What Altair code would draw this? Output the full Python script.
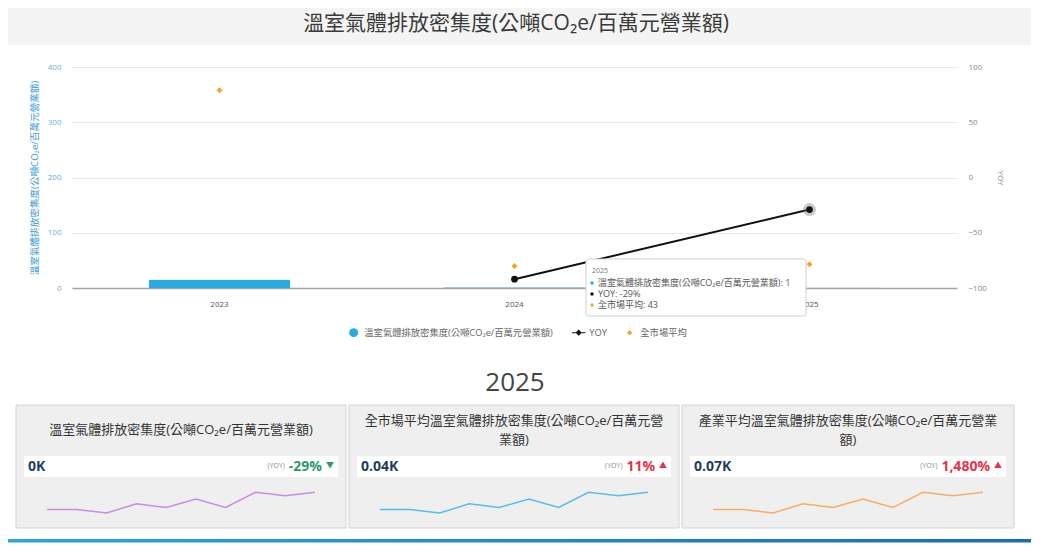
import pandas as pd
import altair as alt

FONT = "Open Sans, Noto Sans CJK TC, sans-serif"

# ---- values ----
years = ['2023', '2024', '2025']
intensity = [15.2, 1.4, 1.0]
yoy = [None, -92, -29]
market_avg = [358, 40, 43]

series_names = ['溫室氣體排放密集度(公噸CO₂e/百萬元營業額)', 'YOY', '全市場平均']
series_colors = ['#29abe2', '#111111', '#f5a623']

chart_title = '溫室氣體排放密集度(公噸CO₂e/百萬元營業額)'
heading_year = '2025'

card_title_lines = [
    ['溫室氣體排放密集度(公噸CO₂e/百萬元營業額)'],
    ['全市場平均溫室氣體排放密集度(公噸CO₂e/百萬元營', '業額)'],
    ['產業平均溫室氣體排放密集度(公噸CO₂e/百萬元營業', '額)'],
]
card_values = ['0K', '0.04K', '0.07K']
card_yoy = ['-29%', '11%', '1,480%']
card_trend = ['down', 'up', 'up']
spark_values = [3.4, 3.4, 0, 9, 5.4, 13.7, 5.4, 20.4, 17, 20.4]
spark_colors = ['#c98be8', '#56bde8', '#f7ae63']

# plot area is 885 x 221; everything else is placed relative to its origin
PW, PH = 885, 221
LEFT, RIGHT = -64, 959
one = pd.DataFrame({'k': [0]})


def txt(text, x, y, **style):
    style.setdefault('font', FONT)
    style.setdefault('baseline', 'middle')
    return alt.Chart(one).mark_text(text=text, **style).encode(x=alt.value(x), y=alt.value(y))


def box(x, x2, y, y2, **style):
    return alt.Chart(one).mark_rect(**style).encode(
        x=alt.value(x), x2=alt.value(x2), y=alt.value(y), y2=alt.value(y2))


# ---- header band ----
header = [
    box(LEFT, RIGHT, -59, -22, color='#f4f4f4'),
    txt(chart_title, 444, -43, fontSize=21, color='#3a3a3a'),
]

# ---- main chart ----
df = pd.DataFrame({'year': years, 'intensity': intensity, 'yoy': yoy, 'market': market_avg})

x_scale = alt.Scale(domain=years, paddingInner=0, paddingOuter=0)
x_enc = alt.X('year:N', sort=years, title=None, scale=x_scale,
              axis=alt.Axis(labelAngle=0, labelFontSize=8, labelColor='#555555', labelPadding=12,
                            labelFont=FONT, ticks=False, domainColor='#a3a3a3', domainWidth=1.5,
                            grid=False))
x_plain = alt.X('year:N', sort=years, title=None, scale=x_scale, axis=None)

left_axis = alt.Axis(orient='left', values=[0, 100, 200, 300, 400], labelColor='#6aaee0',
                     labelFontSize=8, labelFont=FONT, labelPadding=11, ticks=False, domain=False,
                     gridColor='#e8e8e8', title=series_names[0], titleColor='#3d9bd8',
                     titleFontSize=9.6, titleFont=FONT, titleFontWeight='normal', titlePadding=8)
left_scale = alt.Scale(domain=[0, 400], nice=False, zero=False)

right_axis = alt.Axis(orient='right', values=[-100, -50, 0, 50, 100], grid=False, domain=False,
                      ticks=False, labelColor='#888888', labelFontSize=8, labelFont=FONT,
                      labelPadding=11, title='YOY', titleColor='#888888', titleFontSize=8,
                      titleFont=FONT, titleFontWeight='normal', titlePadding=9)
right_scale = alt.Scale(domain=[-100, 100], nice=False)

YOY_SYMBOL = 'M-1.5,-0.12H1.5V0.12H-1.5Z M-0.7,0L0,-0.7L0.7,0L0,0.7Z'
DIAMOND = 'M-0.6,0L0,-0.6L0.6,0L0,0.6Z'
color_scale = alt.Scale(domain=series_names, range=series_colors)
shape_scale = alt.Scale(domain=series_names, range=['circle', YOY_SYMBOL, DIAMOND])
legend = alt.Legend(orient='none', legendX=277, legendY=261, direction='horizontal', title=None,
                    labelFontSize=9.3, labelFont=FONT, labelColor='#666666', labelLimit=400,
                    symbolSize=80, symbolStrokeWidth=0, columnPadding=18, labelOffset=6, padding=0)

bars = alt.Chart(df).transform_calculate(series=f"'{series_names[0]}'").mark_bar(
    width=alt.RelativeBandSize(0.48), cornerRadiusTopLeft=2, cornerRadiusTopRight=2
).encode(
    x=x_enc,
    y=alt.Y('intensity:Q', scale=left_scale, axis=left_axis),
    color=alt.Color('series:N', scale=color_scale, legend=legend),
)

market = alt.Chart(df).transform_calculate(series=f"'{series_names[2]}'").mark_point(
    filled=True, size=100, opacity=1
).encode(
    x=x_enc,
    y=alt.Y('market:Q', scale=left_scale, axis=left_axis),
    color=alt.Color('series:N', scale=color_scale, legend=legend),
    shape=alt.Shape('series:N', scale=shape_scale, legend=legend),
)

y_right = alt.Y('yoy:Q', scale=right_scale, axis=right_axis)
yoy_line = alt.Chart(df).mark_line(color='#111111', strokeWidth=2).encode(x=x_plain, y=y_right)
yoy_halo = alt.Chart(df).transform_filter(alt.datum.year == years[2]).mark_circle(
    color='#7a7a7a', opacity=0.4, size=170).encode(x=x_plain, y=y_right)
yoy_dots = alt.Chart(df).mark_circle(color='#111111', size=45, opacity=1).encode(x=x_plain, y=y_right)

# hover tooltip shown in the picture, anchored on 2025
tip_df = pd.DataFrame({
    'year': [years[2]] * 3,
    'label': [f'{series_names[0]}: {intensity[2]:.0f}',
              f'YOY: {yoy[2]:.0f}%',
              f'{series_names[2]}: {market_avg[2]:.0f}'],
    'ty': [9.0, -10.9, -30.8],
    'dot': series_colors,
})
tip_y = alt.Scale(domain=[0, 400], nice=False, zero=False)
tip_one = pd.DataFrame({'year': [years[2]]})
tip_box = alt.Chart(tip_one).mark_bar(
    width=220, xOffset=-113.5, color='white', stroke='#cfcfcf', strokeWidth=1, cornerRadius=3
).encode(x=x_plain, y=alt.Y(datum=52.5, scale=tip_y, axis=None), y2=alt.datum(-50.7))
tip_head = alt.Chart(tip_one).mark_text(
    text=years[2], align='left', baseline='middle', dx=-217.5, fontSize=7, font=FONT, color='#777777'
).encode(x=x_plain, y=alt.Y(datum=30.8, scale=tip_y, axis=None))
tip_text = alt.Chart(tip_df).mark_text(
    align='left', baseline='middle', dx=-211.5, fontSize=9, font=FONT, color='#555555'
).encode(x=x_plain, y=alt.Y('ty:Q', scale=tip_y, axis=None), text='label:N')
tip_dots = alt.Chart(tip_df).mark_circle(size=12, xOffset=-217.5, opacity=1).encode(
    x=x_plain, y=alt.Y('ty:Q', scale=tip_y, axis=None), fill=alt.Fill('dot:N', scale=None))

main_groups = [
    alt.layer(bars, market),
    alt.layer(yoy_line, yoy_halo, yoy_dots),
    alt.layer(tip_box, tip_head, tip_text, tip_dots),
]

# ---- year heading + KPI cards ----
BOLD_W = {'-': 4.6, ',': 3.9, '%': 12.5, '.': 3.9}


def text_width(s):
    return sum(BOLD_W.get(c, 8.0) for c in s)


spark_df = pd.DataFrame({'idx': list(range(len(spark_values))), 'v': spark_values})
CARD_X = [-56, 277, 610]
CARD_W = [330, 330, 332]
CY, CH = 338, 123


def make_card(i):
    x0, w, y0 = CARD_X[i], CARD_W[i], CY
    layers = [box(x0, x0 + w, y0, y0 + CH, color='#efefef', stroke='#d3d3d3', strokeWidth=1)]
    lines = card_title_lines[i]
    ys = [25] if len(lines) == 1 else [16, 35]
    for line, yy in zip(lines, ys):
        layers.append(txt(line, x0 + w / 2, y0 + yy, fontSize=13, color='#333333'))
    layers.append(box(x0 + 8, x0 + w - 8, y0 + 51, y0 + 72, color='white'))
    layers.append(txt(card_values[i], x0 + 12, y0 + 62, fontSize=14, fontWeight='bold',
                      color='#1f3d63', align='left'))
    c = '#2e9a6c' if card_trend[i] == 'down' else '#e5334b'
    arrow = '▼' if card_trend[i] == 'down' else '▲'
    layers.append(txt(arrow, x0 + w - 12, y0 + 61, fontSize=8, color=c, align='right'))
    layers.append(txt(card_yoy[i], x0 + w - 24, y0 + 62, fontSize=14, fontWeight='bold',
                      color=c, align='right'))
    layers.append(txt('(YOY)', x0 + w - 28 - text_width(card_yoy[i]), y0 + 61, fontSize=7,
                      color='#888888', align='right'))
    layers.append(alt.Chart(spark_df).mark_line(color=spark_colors[i], strokeWidth=1.5).encode(
        x=alt.X('idx:Q', scale=alt.Scale(domain=[0, len(spark_values) - 1],
                                         range=[x0 + 31, x0 + w - 31]), axis=None),
        y=alt.Y('v:Q', scale=alt.Scale(domain=[0, max(spark_values)],
                                       range=[y0 + 108, y0 + 87.3]), axis=None)))
    return layers


lower = [txt(heading_year, 443, 316, fontSize=26, color='#444444')]
for i in range(3):
    lower += make_card(i)

# ---- bottom accent line ----
lower.append(box(LEFT, RIGHT, 472, 475.5, color=alt.Gradient(
    gradient='linear',
    stops=[alt.GradientStop(color='#2aa6df', offset=0), alt.GradientStop(color='#1b6db0', offset=1)],
    x1=0, x2=1, y1=0, y2=0)))

chart = alt.layer(*header, *main_groups, *lower).resolve_scale(
    x='independent', y='independent'
).properties(width=PW, height=PH, padding=0, background='white').configure_view(strokeWidth=0)

chart.save("out.html", embed_options={"renderer": "svg", "actions": False})
